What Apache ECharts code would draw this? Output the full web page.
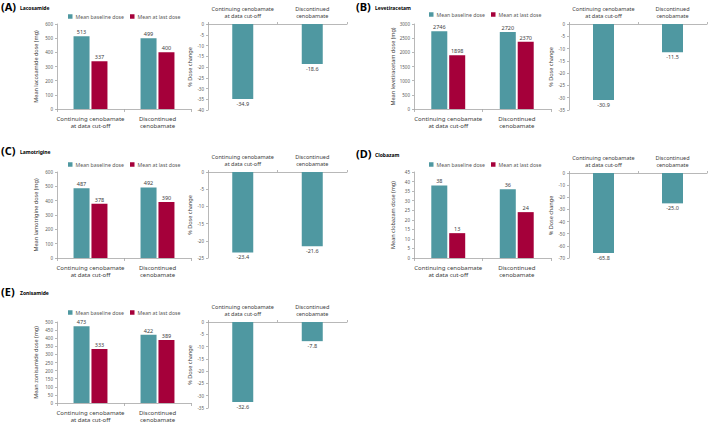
<!DOCTYPE html>
<html>
<head>
<meta charset="utf-8">
<script src="https://cdn.jsdelivr.net/npm/echarts@6/dist/echarts.min.js"></script>
<style>
  html, body { margin: 0; padding: 0; background: #fff; }
  #main { width: 709px; height: 424px; }
</style>
</head>
<body>
<div id="main"></div>
<script>
// 数据
var categories = ['Continuing cenobamate\nat data cut-off', 'Discontinued\ncenobamate'];
var seriesNames = ['Mean baseline dose', 'Mean at last dose'];

var lacosamideBaseline = [513, 499];
var lacosamideLast = [337, 400];
var lacosamideChange = [-34.9, -18.6];

var levetiracetamBaseline = [2746, 2720];
var levetiracetamLast = [1898, 2370];
var levetiracetamChange = [-30.9, -11.5];

var lamotrigineBaseline = [487, 492];
var lamotrigineLast = [378, 390];
var lamotrigineChange = [-23.4, -21.6];

var clobazamBaseline = [38, 36];
var clobazamLast = [13, 24];
var clobazamChange = [-65.8, -25.0];

var zonisamideBaseline = [473, 422];
var zonisamideLast = [333, 389];
var zonisamideChange = [-32.6, -7.8];

var TEAL = '#4f98a1';
var RED = '#a5003a';
var AXIS = '#a6a6a6';
var TXT = '#404040';
var FONT = 'Noto Sans';

var myChart = echarts.init(document.getElementById('main'), null, {renderer: 'svg'});

var option = {
    animation: false,
    textStyle: {fontFamily: FONT},
    grid: [], xAxis: [], yAxis: [], series: [], legend: [], graphic: []
};

function plain(v) { return String(v); } // 不要千分位

// 左边: 剂量柱状图
function addDose(g, dname, base, last, max, step, legendLeft, legendTop) {
    var i = option.grid.length;
    option.grid.push(g);
    option.xAxis.push({
        type: 'category', gridIndex: i, data: categories,
        axisLine: {lineStyle: {color: AXIS, width: 0.8}},
        axisTick: {show: true, length: 3, lineStyle: {color: AXIS, width: 0.8}},
        axisLabel: {fontSize: 6, color: TXT, margin: 6, lineHeight: 7.5, interval: 0, fontFamily: FONT}
    });
    option.yAxis.push({
        type: 'value', gridIndex: i, min: 0, max: max, interval: step,
        name: 'Mean ' + dname + ' dose (mg)', nameLocation: 'middle', nameGap: 18,
        nameTextStyle: {fontSize: 5.5, color: TXT, fontFamily: FONT},
        axisLine: {show: true, lineStyle: {color: AXIS, width: 0.8}},
        axisTick: {show: true, length: 2, lineStyle: {color: AXIS, width: 0.8}},
        axisLabel: {fontSize: 4.5, color: '#595959', margin: 4, fontFamily: FONT, formatter: plain},
        splitLine: {show: false}
    });
    var lbl = {show: true, position: 'top', fontSize: 5.5, color: TXT, distance: 1, fontFamily: FONT};
    option.series.push({
        name: seriesNames[0], type: 'bar', xAxisIndex: i, yAxisIndex: i, data: base,
        barWidth: 16, barGap: '12%', itemStyle: {color: TEAL}, label: lbl
    });
    option.series.push({
        name: seriesNames[1], type: 'bar', xAxisIndex: i, yAxisIndex: i, data: last,
        barWidth: 16, barGap: '12%', itemStyle: {color: RED}, label: lbl
    });
    option.legend.push({
        data: seriesNames, left: legendLeft, top: legendTop, padding: 0,
        itemWidth: 4.5, itemHeight: 4.5, itemGap: 6, icon: 'rect',
        textStyle: {fontSize: 5.2, color: '#595959', fontFamily: FONT, padding: [0, 0, 0, -2]}
    });
}

// 右边: 剂量变化百分比
function addChange(g, vals, min, step) {
    var i = option.grid.length;
    option.grid.push(g);
    option.xAxis.push({
        type: 'category', gridIndex: i, data: categories, position: 'top',
        axisLine: {lineStyle: {color: AXIS, width: 0.8}},
        axisTick: {show: true, length: 2, lineStyle: {color: AXIS, width: 0.8}},
        axisLabel: {fontSize: 5.5, color: TXT, margin: 5, lineHeight: 7, interval: 0, fontFamily: FONT}
    });
    option.yAxis.push({
        type: 'value', gridIndex: i, min: min, max: 0, interval: step,
        name: '% Dose change', nameLocation: 'middle', nameGap: 15,
        nameTextStyle: {fontSize: 5.5, color: TXT, fontFamily: FONT},
        axisLine: {show: true, lineStyle: {color: AXIS, width: 0.8}},
        axisTick: {show: true, length: 2, lineStyle: {color: AXIS, width: 0.8}},
        axisLabel: {fontSize: 4.5, color: '#595959', margin: 4, fontFamily: FONT, formatter: plain},
        splitLine: {show: false}
    });
    option.series.push({
        name: '% Dose change', type: 'bar', xAxisIndex: i, yAxisIndex: i, data: vals,
        barWidth: 21, itemStyle: {color: TEAL},
        label: {show: true, position: 'bottom', fontSize: 5.5, color: TXT, distance: 2, fontFamily: FONT,
            formatter: function (p) { return p.value.toFixed(1); }}
    });
}

function addTitle(letter, drug, x, y) {
    option.graphic.push({type: 'text', left: x, top: y,
        style: {text: '(' + letter + ')', font: 'bold 11px "Noto Sans"', fill: '#000'}});
    option.graphic.push({type: 'text', left: x + 19, top: y + 4,
        style: {text: drug, font: 'bold 5px "Noto Sans"', fill: '#000'}});
}

addDose({left: 57, top: 24, width: 134, height: 85}, 'lacosamide', lacosamideBaseline, lacosamideLast, 600, 100, 68, 14);
addChange({left: 208, top: 24, width: 139, height: 86}, lacosamideChange, -40, 5);

addDose({left: 414, top: 24, width: 137, height: 85}, 'levetiracetam', levetiracetamBaseline, levetiracetamLast, 3000, 500, 429, 12);
addChange({left: 569, top: 24, width: 138, height: 86}, levetiracetamChange, -35, 5);

addDose({left: 57, top: 172, width: 134, height: 86}, 'lamotrigine', lamotrigineBaseline, lamotrigineLast, 600, 100, 68, 162);
addChange({left: 208, top: 172, width: 139, height: 86}, lamotrigineChange, -25, 5);

addDose({left: 414, top: 172, width: 137, height: 86}, 'clobazam', clobazamBaseline, clobazamLast, 45, 5, 429, 162);
addChange({left: 569, top: 173, width: 138, height: 85}, clobazamChange, -70, 10);

addDose({left: 57, top: 322, width: 134, height: 85}, 'zonisamide', zonisamideBaseline, zonisamideLast, 500, 50, 68, 310);
addChange({left: 208, top: 322, width: 139, height: 86}, zonisamideChange, -35, 5);

addTitle('A', 'Lacosamide', 1, 1);
addTitle('B', 'Levetiracetam', 356, 1);
addTitle('C', 'Lamotrigine', 1, 145);
addTitle('D', 'Clobazam', 356, 148);
addTitle('E', 'Zonisamide', 1, 286);

myChart.setOption(option);
</script>
</body>
</html>
